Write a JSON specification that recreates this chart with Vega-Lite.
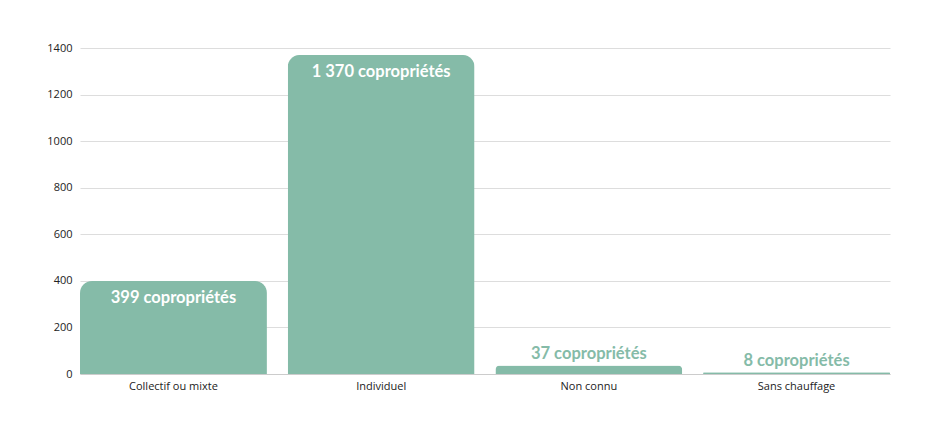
{
  "$schema": "https://vega.github.io/schema/vega-lite/v6.json",
  "autosize": {"type": "none"},
  "padding": {"left": 80, "top": 48, "right": 45, "bottom": 63},
  "width": 810,
  "height": 326,
  "background": "#ffffff",
  "config": {
    "view": {"stroke": null},
    "font": "Open Sans"
  },
  "data": {
    "values": [
      {"type": "Collectif ou mixte", "count": 399, "label": "399 copropriétés", "inside": true},
      {"type": "Individuel", "count": 1370, "label": "1 370 copropriétés", "inside": true},
      {"type": "Non connu", "count": 37, "label": "37 copropriétés", "inside": false},
      {"type": "Sans chauffage", "count": 8, "label": "8 copropriétés", "inside": false}
    ]
  },
  "encoding": {
    "x": {
      "field": "type",
      "type": "nominal",
      "sort": null,
      "scale": {"paddingInner": 0.1, "paddingOuter": 0},
      "axis": {
        "title": null,
        "labelAngle": 0,
        "ticks": false,
        "domain": true,
        "domainColor": "#cccccc",
        "labelFont": "Open Sans",
        "labelFontSize": 11,
        "labelColor": "#222222",
        "labelPadding": 6
      }
    },
    "y": {
      "field": "count",
      "type": "quantitative",
      "scale": {"domain": [0, 1400]},
      "axis": {
        "title": null,
        "format": "d",
        "values": [0, 200, 400, 600, 800, 1000, 1200, 1400],
        "ticks": false,
        "domain": false,
        "gridColor": "#dddddd",
        "labelFont": "Open Sans",
        "labelFontSize": 11,
        "labelColor": "#222222",
        "labelPadding": 8
      }
    }
  },
  "layer": [
    {
      "mark": {"type": "bar", "color": "#85bba8", "cornerRadiusTopLeft": 12, "cornerRadiusTopRight": 12}
    },
    {
      "transform": [{"filter": "datum.inside"}],
      "mark": {"type": "text", "color": "#ffffff", "font": "Lato", "fontWeight": "bold", "fontSize": 16.5, "baseline": "middle", "dy": 17},
      "encoding": {"text": {"field": "label"}}
    },
    {
      "transform": [{"filter": "!datum.inside"}],
      "mark": {"type": "text", "color": "#85bba8", "font": "Lato", "fontWeight": "bold", "fontSize": 16.5, "baseline": "middle", "dy": -11},
      "encoding": {"text": {"field": "label"}}
    }
  ]
}
